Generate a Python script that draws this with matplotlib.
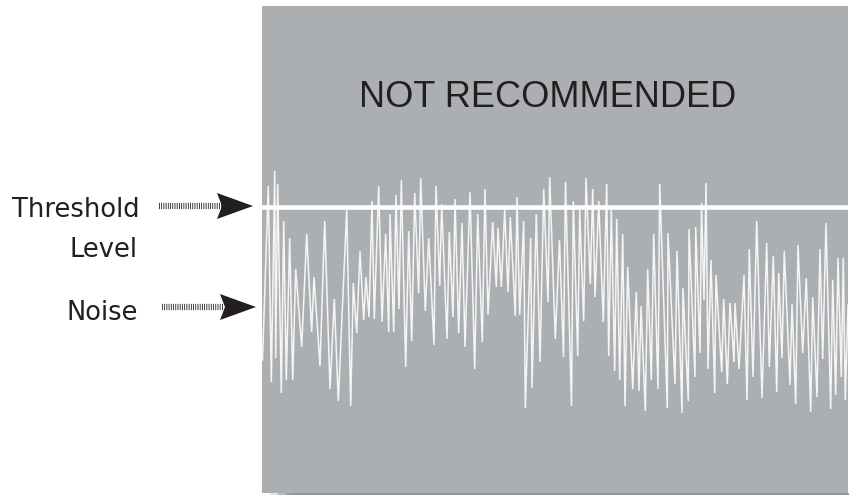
import matplotlib
matplotlib.use("Agg")
from matplotlib import pyplot as plt
from matplotlib.lines import Line2D
from matplotlib.patches import Polygon, Rectangle

plt.rcParams['lines.scale_dashes'] = False

# noise trace (time in px-ish units, level above floor)
t = [0.5, 6.3, 9.3, 12.7, 13.7, 15.7, 19.3, 21.7, 24.3, 27.7, 30.7, 33.7, 39.7,
     44.7, 49.7, 52.0, 58.0, 62.7, 68.0, 72.3, 76.3, 84.7, 88.7, 91.3, 94.7,
     98.0, 101.7, 104.0, 107.0, 110.0, 112.3, 116.7, 120.0, 123.7, 126.7,
     128.0, 131.7, 134.0, 137.0, 139.3, 143.7, 146.7, 149.7, 152.7, 156.7,
     158.7, 163.3, 166.7, 172.0, 174.0, 177.7, 179.7, 185.0, 187.3, 191.0,
     193.0, 196.7, 200.0, 203.0, 208.0, 212.7, 215.7, 220.3, 223.0, 226.0,
     230.7, 234.3, 236.0, 239.3, 242.7, 246.0, 248.3, 253.3, 255.0, 257.7,
     261.7, 263.3, 268.7, 270.0, 274.3, 278.0, 281.7, 286.0, 287.7, 293.3,
     297.5, 301.5, 303.5, 309.5, 311.3, 315.7, 317.7, 321.7, 324.0, 328.3,
     330.7, 333.0, 336.7, 341.3, 344.7, 346.7, 349.3, 352.7, 354.7, 357.7,
     360.7, 363.0, 365.7, 370.7, 374.3, 377.0, 379.0, 383.3, 385.7, 389.3,
     391.7, 396.0, 397.7, 405.3, 406.0, 413.0, 415.0, 420.0, 421.0, 426.3,
     427.0, 433.0, 433.7, 438.0, 439.5, 442.0, 444.0, 446.0, 449.0, 452.7,
     454.0, 459.7, 461.7, 465.3, 468.0, 472.0, 473.0, 477.0, 482.0, 485.0,
     487.3, 491.0, 494.7, 500.0, 504.7, 507.3, 511.3, 514.7, 516.7, 520.0,
     522.3, 528.0, 530.0, 533.7, 536.0, 540.7, 544.3, 548.7, 550.7, 555.0,
     558.0, 560.7, 564.0, 568.7, 570.7, 573.7, 576.0, 579.3, 581.3, 583.3,
     586.0]
noise = [133, 307, 111, 322, 135, 309, 100, 272, 113, 255, 113, 224, 146,
         259, 161, 216, 127, 272, 104, 194, 92, 283, 87, 210, 160,
         242, 173, 216, 176, 292, 174, 307, 171, 259, 161,
         279, 161, 298, 184, 313, 126, 262, 152, 300, 200,
         315, 182, 255, 148, 307, 207, 289, 154, 261, 176,
         294, 160, 270, 146, 301, 124, 279, 151, 304, 178,
         271, 206, 265, 206, 283, 201, 276, 177, 296, 178,
         272, 85, 255, 105, 279, 131, 304, 191, 316, 154,
         253, 136, 311, 87, 292, 137, 283, 172, 315, 209,
         304, 196, 292, 171, 309, 137, 283, 122, 274, 113,
         259, 87, 226, 104, 201, 102, 187, 82, 224, 113,
         259, 104, 309, 85, 260, 109, 242, 80, 205, 92,
         264, 116, 266, 140, 290, 193, 310, 124, 233, 100,
         218, 121, 194, 109, 190, 131, 190, 124, 218, 93,
         244, 116, 272, 95, 250, 126, 237, 101, 220, 135,
         242, 108, 189, 89, 248, 140, 215, 81, 196, 96,
         244, 134, 270, 84, 213, 98, 235, 116, 235, 93,
         188]
threshold = 286

title = "NOT RECOMMENDED"
labels = ["Threshold", "Level", "Noise"]

W, H = 849, 495
panel = "#acafb2"
ink = "#231f20"


def fx(x):
    return x / W


def fy(y):
    return 1 - y / H


fig = plt.figure(figsize=(W / 100, H / 100), dpi=100)
fig.patch.set_facecolor("white")

# soft shadow under the panel
for i, a in enumerate([0.25, 0.5, 0.75, 1.0]):
    x0 = 270 + i * 8
    fig.add_artist(Rectangle((fx(x0), fy(496)), fx(849 - x0), 3 / H,
                             transform=fig.transFigure, color="#909295",
                             alpha=a, lw=0, zorder=0))

ax = fig.add_axes([fx(262), fy(493), fx(848 - 262), (493 - 6) / H])
ax.set_facecolor(panel)
ax.set_xlim(0, 586)
ax.set_ylim(0, 487)
ax.set_xticks([])
ax.set_yticks([])
for s in ax.spines.values():
    s.set_visible(False)

ax.plot(t, noise, color="#f5f5f5", lw=1.1, solid_joinstyle="miter")
ax.axhline(threshold, color="white", lw=3.3)

fig.text(fx(548), fy(107), title, ha="center", va="baseline",
         fontsize=26, color=ink, family=["Liberation Sans", "DejaVu Sans"])

fig.text(fx(140), fy(217), labels[0], ha="right", va="baseline",
         fontsize=18.5, color=ink)
fig.text(fx(137), fy(257), labels[1], ha="right", va="baseline",
         fontsize=18.5, color=ink)
fig.text(fx(138), fy(320), labels[2], ha="right", va="baseline",
         fontsize=18.5, color=ink)


def arrow(x0, x1, y, tip):
    fig.add_artist(Line2D([fx(x0), fx(x1)], [fy(y), fy(y)],
                          transform=fig.transFigure, color=ink, lw=4.5,
                          dashes=(0.6, 1.0), solid_capstyle="butt",
                          dash_capstyle="butt"))
    head = [(tip, y), (tip - 36, y - 13), (tip - 31, y), (tip - 36, y + 13)]
    fig.add_artist(Polygon([(fx(a), fy(b)) for a, b in head], closed=True,
                           transform=fig.transFigure, color=ink, lw=0))


arrow(159, 222, 206, 253)
arrow(162, 224, 307, 256)

fig.savefig("out.png", dpi=100, facecolor="white")
